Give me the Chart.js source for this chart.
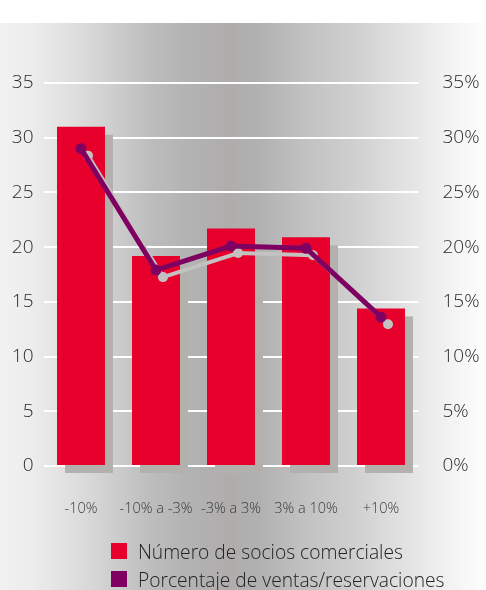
<!DOCTYPE html>
<html>
<head>
<meta charset="utf-8">
<script src="https://cdn.jsdelivr.net/npm/chart.js@4/dist/chart.umd.min.js"></script>
<style>
    body { margin: 0; background: #fff; }
    #wrap { position: relative; width: 486px; height: 590px; overflow: hidden; }
    #bg {
        position: absolute; left: 0; top: 23px; width: 486px; height: 567px;
        background: linear-gradient(to right, #f2f2f2 0px, #ececec 33px, #dcdcdc 80px, #cfcfcf 110px,
            #bdbdbd 150px, #b3b3b3 187px, #afadac 230px, #b1b1b1 260px, #c0c0c0 300px,
            #cecece 350px, #e0e0e0 400px, #f3f3f3 450px, #fdfdfd 486px);
    }
    canvas { position: absolute; left: 0; top: 0; }
    #legend { position: absolute; left: 111px; top: 537px; font-family: 'Open Sans', sans-serif; font-weight: 350; font-size: 19.2px; color: #222; }
    .item { display: flex; align-items: center; height: 28px; white-space: nowrap; }
    .sw { width: 16px; height: 16px; margin-right: 11px; flex: none; }
</style>
</head>
<body>
<div id="wrap">
    <div id="bg"></div>
    <canvas id="chart" width="486" height="590"></canvas>
    <div id="legend"></div>
</div>
<script>
    // Data
    const categories = ['-10%', '-10% a -3%', '-3% a 3%', '3% a 10%', '+10%'];
    const socios = [31, 19.2, 21.7, 20.9, 14.4];      // left axis
    const ventas = [29, 17.9, 20.1, 19.9, 13.6];      // right axis, %
    const seriesNames = ['Número de socios comerciales', 'Porcentaje de ventas/reservaciones'];
    const axisMax = 35;
    const axisStep = 5;

    const RED = '#e8002d';
    const PURPLE = '#7e0061';
    const FONT = "'Open Sans', sans-serif";

    // Legend (html, left aligned block like the reference)
    const legendEl = document.getElementById('legend');
    [RED, PURPLE].forEach((c, i) => {
        const row = document.createElement('div');
        row.className = 'item';
        row.innerHTML = `<span class="sw" style="background:${c}"></span><span>${seriesNames[i]}</span>`;
        legendEl.appendChild(row);
    });

    // Gray drop shadows behind bars and line
    const shadowPlugin = {
        id: 'shadows',
        beforeDatasetDraw(chart, args) {
            const ctx = chart.ctx;
            const meta = args.meta;
            ctx.save();
            if (meta.type === 'bar') {
                ctx.fillStyle = '#b4b0ae';
                meta.data.forEach(bar => {
                    const p = bar.getProps(['x', 'y', 'base', 'width'], true);
                    ctx.fillRect(p.x - p.width / 2 + 8, p.y + 8, p.width, p.base - p.y);
                });
            } else {
                const pts = meta.data.map(pt => pt.getProps(['x', 'y'], true));
                ctx.strokeStyle = '#c3c2c1';
                ctx.fillStyle = '#c3c2c1';
                ctx.lineWidth = 4;
                ctx.lineJoin = 'round';
                ctx.beginPath();
                pts.forEach((p, i) => i ? ctx.lineTo(p.x + 7, p.y + 7) : ctx.moveTo(p.x + 7, p.y + 7));
                ctx.stroke();
                pts.forEach(p => {
                    ctx.beginPath();
                    ctx.arc(p.x + 7, p.y + 7, 5, 0, Math.PI * 2);
                    ctx.fill();
                });
            }
            ctx.restore();
        }
    };

    new Chart(document.getElementById('chart'), {
        data: {
            labels: categories,
            datasets: [
                {
                    type: 'line',
                    label: seriesNames[1],
                    data: ventas,
                    yAxisID: 'y1',
                    borderColor: PURPLE,
                    backgroundColor: PURPLE,
                    borderWidth: 5,
                    pointRadius: 5.5,
                    pointBorderWidth: 0,
                    tension: 0,
                    order: 0,
                    clip: false
                },
                {
                    type: 'bar',
                    label: seriesNames[0],
                    data: socios,
                    yAxisID: 'y',
                    backgroundColor: RED,
                    categoryPercentage: 1,
                    barPercentage: 0.64,
                    order: 1,
                    clip: false
                }
            ]
        },
        options: {
            responsive: false,
            animation: false,
            layout: { padding: { top: 83, bottom: 0, left: 0, right: 0 } },
            plugins: { legend: { display: false }, tooltip: { enabled: false } },
            scales: {
                x: {
                    grid: { display: false, drawTicks: false },
                    border: { display: false },
                    ticks: { color: '#3a3a3a', font: { family: FONT, size: 14.5, weight: 350 }, padding: 34, maxRotation: 0, autoSkip: false },
                    afterFit(s) { s.height = 124; }
                },
                y: {
                    position: 'left',
                    min: 0,
                    max: axisMax,
                    ticks: { stepSize: axisStep, color: '#2a2a2a', font: { family: FONT, size: 19, weight: 350 }, padding: 10 },
                    grid: { color: '#ffffff', lineWidth: 2, drawTicks: false },
                    border: { display: false },
                    afterFit(s) { s.width = 43.5; }
                },
                y1: {
                    position: 'right',
                    min: 0,
                    max: axisMax,
                    ticks: { stepSize: axisStep, color: '#2a2a2a', font: { family: FONT, size: 19, weight: 350 }, padding: 24, callback: v => v + '%' },
                    grid: { display: false, drawTicks: false },
                    border: { display: false },
                    afterFit(s) { s.width = 67.5; }
                }
            }
        },
        plugins: [shadowPlugin]
    });
</script>
</body>
</html>
